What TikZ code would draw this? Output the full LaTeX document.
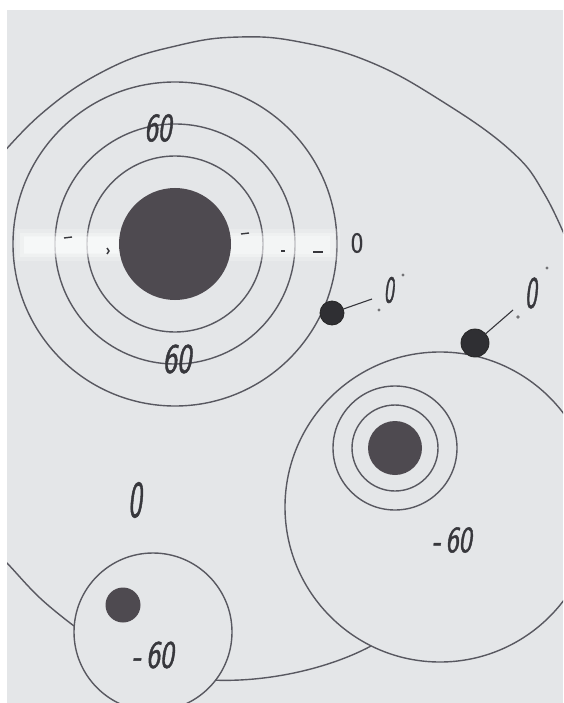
\documentclass[tikz,border=0pt]{standalone}
\usepackage{graphicx}
\usepackage{fontspec}
\newfontfamily\handfont[FakeBold=1.4,FakeSlant=0.2]{Latin Modern Sans}
\newfontfamily\handfontup[FakeBold=0.8]{Latin Modern Sans}
\definecolor{paper}{RGB}{228,230,232}
\definecolor{ink}{RGB}{88,88,96}
\definecolor{blob}{RGB}{78,74,80}
\definecolor{pen}{RGB}{55,55,60}
\newcommand\handtxt[3]{\fontsize{#1}{#1}\selectfont\scalebox{#2}[1]{#3}}
\tikzset{
 ring/.style={draw=ink, line width=1.4pt},
 disk/.style={circle, fill=blob, inner sep=0pt},
 dotmark/.style={circle, fill=pen!85!black, draw=black!85, line width=0.8pt, inner sep=0pt},
 lead/.style={draw=pen, line width=1.1pt},
 hand/.style={text=pen, inner sep=0pt, font=\handfont},
 tickmark/.style={draw=pen, line width=1.4pt},
 speck/.style={fill=pen!70},
}
\begin{document}
\begin{tikzpicture}[x=1pt,y=-1pt]
\useasboundingbox (0,0) rectangle (563,703);
\fill[white] (0,0) rectangle (563,703);
\fill[paper] (7,10) rectangle (563,703);
\begin{scope}
\clip (7,10) rectangle (563,703);
% outer boundary
\draw[ring] plot[smooth, tension=0.7] coordinates {(-20,180) (40,115) (110,68) (180,45) (240,37) (300,42) (370,62) (440,100) (510,150) (545,195) (575,260)};
\draw[ring] plot[smooth, tension=0.7] coordinates {(-10,546) (7,563) (40,598) (74,626)};
\draw[ring] (215.6,680.2) .. controls (270,682) and (330,668) .. (371,646);
% top-left target rings
\draw[ring] (175,244) circle[radius=162];
\draw[ring] (175,244) circle[radius=120];
\draw[ring] (175,244) circle[radius=88];
% erased band (soft)
\fill[white, opacity=0.2] (16,229) rectangle (340,261);
\fill[white, opacity=0.3] (20,233) rectangle (335,257);
\fill[white, opacity=0.3] (24,236) rectangle (330,254);
\fill[white, opacity=0.3] (24,237) rectangle (118,253);
% right circle
\draw[ring] (440,507) circle[radius=155];
\draw[ring] (395,448) circle[radius=43];
\draw[ring] (395,448) circle[radius=62];
% bottom circle
\draw[ring] (153,632) circle[radius=79];
\end{scope}
% disks
\node[disk, minimum size=112pt] (bigdisk) at (175,244) {};
\node[disk, minimum size=54pt] (rdisk) at (395,448) {};
\node[disk, minimum size=35pt] (bdisk) at (123,605) {};
% marks in band
\draw[tickmark] (64,238) -- (72,237);
\draw[tickmark] (107,248) -- (109,251) -- (107,254);
\draw[tickmark] (241,234) -- (249,233);
\draw[tickmark] (281,251) -- (285,251);
\draw[tickmark, line width=2pt] (313,252) -- (323,252);
% dots with leads
\node[dotmark, minimum size=24pt] (dot1) at (332,313) {};
\coordinate (dot1e) at (372,299);
\draw[lead] (dot1) -- (dot1e);
\node[dotmark, minimum size=28pt] (dot2) at (475,343) {};
\coordinate (dot2e) at (513,310);
\draw[lead] (dot2) -- (dot2e);
\fill[speck] (379,310) circle[radius=1.6];
\fill[speck] (403,275) circle[radius=1.6];
\fill[speck] (518,317) circle[radius=1.8];
\fill[speck] (547,268) circle[radius=1.6];
% labels
\node[hand] (t60a) at (158,128) {\handtxt{40}{0.72}{60}};
\node[hand] (t60b) at (177,359) {\handtxt{42}{0.72}{60}};
\node[hand, font=\handfontup] (t0r) at (357,243) {\handtxt{29}{0.9}{0}};
\node[hand] (t0l) at (135,500) {\handtxt{52}{0.55}{0}};
\node[hand] (t0d1) at (389,290) {\handtxt{38}{0.55}{0}};
\node[hand] (t0d2) at (531,293) {\handtxt{45}{0.55}{0}};
\node[hand] (tm60r) at (452,540) {\handtxt{37}{0.75}{-\,60}};
\node[hand] (tm60b) at (153,655) {\handtxt{39}{0.75}{-\,60}};
\end{tikzpicture}
\end{document}
